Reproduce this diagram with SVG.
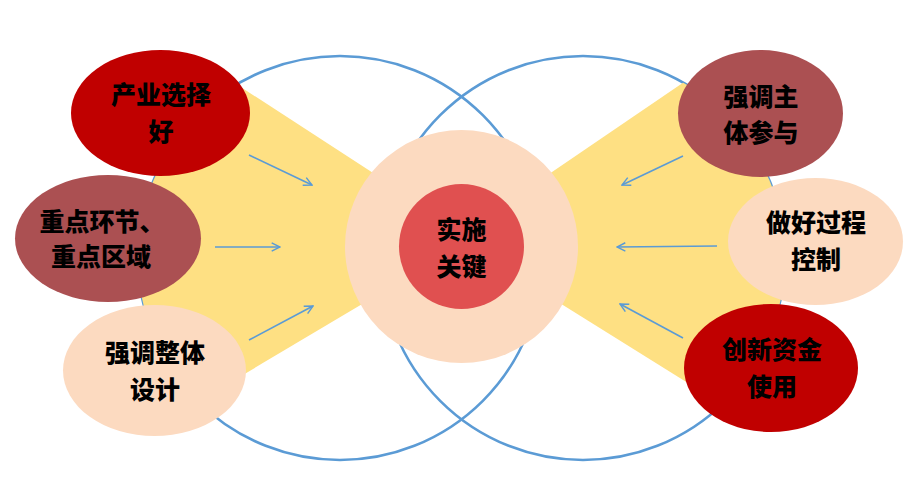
<svg xmlns="http://www.w3.org/2000/svg" width="919" height="495" viewBox="0 0 919 495">
<style>
.ring{fill:none;stroke:#5B9BD5;stroke-width:2.6}
.fan{fill:#FEE083}
.arr{stroke:#5B9BD5;stroke-width:1.6;fill:none;marker-end:url(#ah)}
.t{font-family:"Noto Sans CJK SC","Noto Sans",sans-serif;font-weight:900;font-size:25px;fill:#000;text-anchor:middle}
.red{fill:#C00000}
.rose{fill:#AB5052}
.peach{fill:#FCDAC0}
</style>
<defs>
<marker id="ah" viewBox="0 0 10 10" refX="9" refY="5" markerWidth="6.5" markerHeight="6.5" orient="auto" markerUnits="strokeWidth">
<path d="M1,1 L9,5 L1,9" fill="none" stroke="#5B9BD5" stroke-width="1.4"/>
</marker>
<clipPath id="cl"><circle cx="340" cy="258" r="202"/></clipPath>
<clipPath id="cr"><circle cx="583" cy="258" r="202"/></clipPath>
</defs>
<rect width="919" height="495" fill="#FFFFFF"/>
<g id="rings">
<circle class="ring" cx="340" cy="258" r="202"/>
<circle class="ring" cx="583" cy="258" r="202"/>
</g>
<g id="fans">
<polygon class="fan" clip-path="url(#cl)" points="130,15 470,236 470,240 130,442"/>
<polygon class="fan" clip-path="url(#cr)" points="470,228 800,3 800,453 470,247"/>
</g>
<g id="center">
<circle class="peach" cx="461.5" cy="246.5" r="116.5"/>
<circle cx="461.5" cy="246.5" r="62.5" fill="#E05050"/>
<text class="t" x="461.5" y="239">实施</text>
<text class="t" x="461.5" y="276">关键</text>
</g>
<g id="connectors">
<line class="arr" x1="249" y1="155" x2="312" y2="185"/>
<line class="arr" x1="215" y1="247" x2="280" y2="247"/>
<line class="arr" x1="249" y1="340" x2="313" y2="306"/>
<line class="arr" x1="683" y1="156" x2="622" y2="185"/>
<line class="arr" x1="717" y1="246" x2="617" y2="247"/>
<line class="arr" x1="683" y1="338" x2="620" y2="304"/>
</g>
<g id="n1">
<ellipse class="red" cx="160.5" cy="113" rx="89.5" ry="63"/>
<text class="t" x="161" y="104">产业选择</text>
<text class="t" x="161" y="141">好</text>
</g>
<g id="n2">
<ellipse class="rose" cx="108" cy="238.5" rx="93" ry="63.5"/>
<text class="t" x="102" y="231">重点环节、</text>
<text class="t" x="101" y="266">重点区域</text>
</g>
<g id="n3">
<ellipse class="peach" cx="154.5" cy="370.5" rx="91.5" ry="65.5"/>
<text class="t" x="155" y="362">强调整体</text>
<text class="t" x="155" y="399">设计</text>
</g>
<g id="n4">
<ellipse class="rose" cx="760.5" cy="113.5" rx="82.5" ry="63.5"/>
<text class="t" x="761" y="106">强调主</text>
<text class="t" x="761" y="142">体参与</text>
</g>
<g id="n5">
<ellipse class="peach" cx="815.5" cy="241.5" rx="87.5" ry="63.5"/>
<text class="t" x="816" y="232">做好过程</text>
<text class="t" x="816" y="269">控制</text>
</g>
<g id="n6">
<ellipse class="red" cx="771" cy="368" rx="87" ry="64"/>
<text class="t" x="772" y="359">创新资金</text>
<text class="t" x="772" y="396">使用</text>
</g>
</svg>
